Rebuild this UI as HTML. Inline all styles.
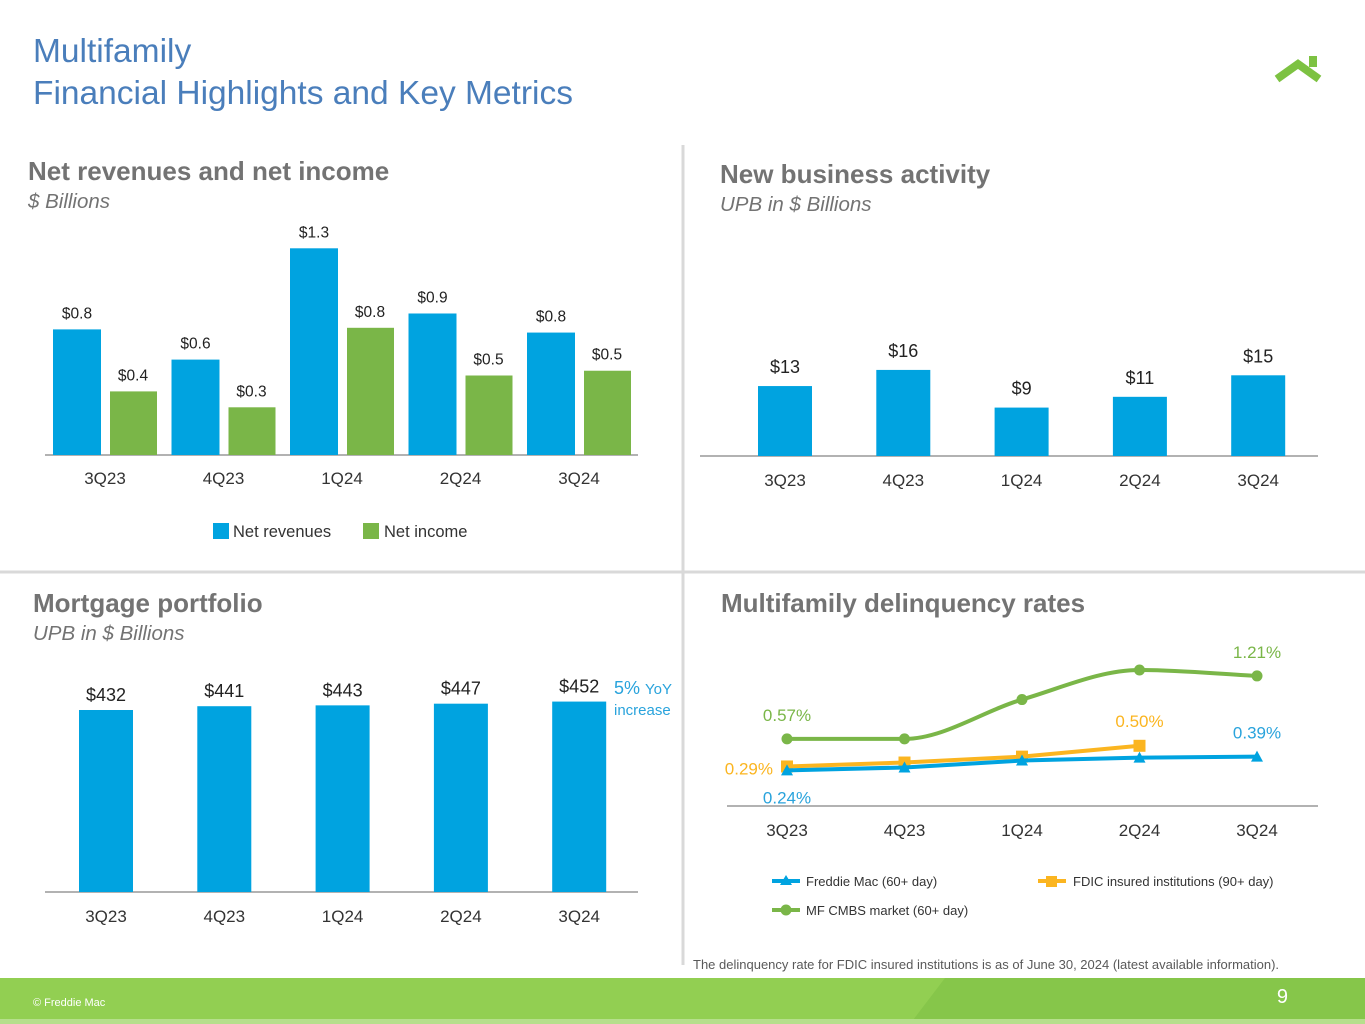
<!DOCTYPE html>
<html><head><meta charset="utf-8"><style>
body{margin:0;width:1365px;height:1024px;overflow:hidden;background:#fff;font-family:"Liberation Sans",Arial,sans-serif}
svg{position:absolute;left:0;top:0}
</style></head><body>
<svg id="s" width="1365" height="1024" font-family="Liberation Sans, Arial, sans-serif">
<text x="33" y="62" font-size="33.5" fill="#4a7ebb">Multifamily</text>
<text x="33" y="104" font-size="33.5" fill="#4a7ebb">Financial Highlights and Key Metrics</text>
<g><polyline points="1277,79 1298,64 1319,79" fill="none" stroke="#7dc242" stroke-width="8"/><rect x="1309" y="56" width="8" height="11" fill="#7dc242"/></g>
<line x1="683" y1="145" x2="683" y2="965" stroke="#d9d9d9" stroke-width="3"/>
<line x1="0" y1="572" x2="1365" y2="572" stroke="#d9d9d9" stroke-width="3"/>
<text x="28" y="180" font-size="26" font-weight="bold" fill="#737373">Net revenues and net income</text>
<text x="28" y="208" font-size="20.5" font-style="italic" fill="#737373">$ Billions</text>
<text x="720" y="183" font-size="26" font-weight="bold" fill="#737373">New business activity</text>
<text x="720" y="211" font-size="20.5" font-style="italic" fill="#737373">UPB in $ Billions</text>
<text x="33" y="612" font-size="26" font-weight="bold" fill="#737373">Mortgage portfolio</text>
<text x="33" y="640" font-size="20.5" font-style="italic" fill="#737373">UPB in $ Billions</text>
<text x="721" y="612" font-size="26" font-weight="bold" fill="#737373">Multifamily delinquency rates</text>
<text x="614" y="694" font-size="18" fill="#29a3dc">5% <tspan font-size="15">YoY</tspan></text>
<text x="614" y="715" font-size="15" fill="#29a3dc">increase</text>
<g>
<rect x="213" y="523" width="16" height="16" fill="#00a3e0"/><text x="233" y="537" font-size="16.5" fill="#333">Net revenues</text>
<rect x="363" y="523" width="16" height="16" fill="#7ab648"/><text x="384" y="537" font-size="16.5" fill="#333">Net income</text>
</g>
<g font-size="13" fill="#333">
<line x1="772" y1="881" x2="800" y2="881" stroke="#00a3e0" stroke-width="4"/><polygon points="786,875 792,885 780,885" fill="#00a3e0"/><text x="806" y="886">Freddie Mac (60+ day)</text>
<line x1="1038" y1="881" x2="1066" y2="881" stroke="#fbb520" stroke-width="4"/><rect x="1046" y="876" width="11" height="11" fill="#fbb520"/><text x="1073" y="886">FDIC insured institutions (90+ day)</text>
<line x1="772" y1="910" x2="800" y2="910" stroke="#7ab648" stroke-width="4"/><circle cx="786" cy="910" r="5.5" fill="#7ab648"/><text x="806" y="915">MF CMBS market (60+ day)</text>
</g>
<text x="693" y="969" font-size="13" fill="#595959">The delinquency rate for FDIC insured institutions is as of June 30, 2024 (latest available information).</text>
<rect x="0" y="978" width="1365" height="46" fill="#92cf52"/>
<polygon points="945,978 1365,978 1365,1024 910,1024" fill="#86c64a"/>
<rect x="0" y="1019" width="1365" height="5" fill="#b6df8c"/>
<text x="33" y="1006" font-size="11" fill="#fff">© Freddie Mac</text>
<text x="1288" y="1003" font-size="20" fill="#fff" text-anchor="end">9</text>
</svg>
<script>
const quarters=["3Q23","4Q23","1Q24","2Q24","3Q24"];
const netRevenues=[0.79,0.6,1.3,0.89,0.77];
const netRevenueLabels=["$0.8","$0.6","$1.3","$0.9","$0.8"];
const netIncome=[0.40,0.30,0.80,0.50,0.53];
const netIncomeLabels=["$0.4","$0.3","$0.8","$0.5","$0.5"];
const newBusiness=[13,16,9,11,15];
const newBusinessLabels=["$13","$16","$9","$11","$15"];
const portfolio=[432,441,443,447,452];
const portfolioLabels=["$432","$441","$443","$447","$452"];
const freddie=[0.25,0.28,0.35,0.38,0.39];
const fdic=[0.29,0.33,0.39,0.50];
const cmbs=[0.57,0.57,0.97,1.27,1.21];
const delinqLabels={freddieFirst:"0.24%",freddieLast:"0.39%",fdicFirst:"0.29%",fdicLast:"0.50%",cmbsFirst:"0.57%",cmbsLast:"1.21%"};

const S=document.getElementById('s');const NS="http://www.w3.org/2000/svg";
function mk(t,a,txt){const e=document.createElementNS(NS,t);for(const k in a)e.setAttribute(k,a[k]);if(txt!=null)e.textContent=txt;S.appendChild(e);return e;}
// chart1
const y1=v=>455-v*159, gx1=i=>105+i*118.5;
mk('line',{x1:45,y1:455,x2:638,y2:455,stroke:'#999','stroke-width':1.5});
quarters.forEach((q,i)=>{
 let r=mk('rect',{x:gx1(i)-52,y:y1(netRevenues[i]),width:48,height:455-y1(netRevenues[i]),fill:'#00a3e0'});
 
 let t=mk('text',{x:gx1(i)-28,y:y1(netRevenues[i])-11,'font-size':15.5,'text-anchor':'middle',fill:'#222'},netRevenueLabels[i]);
 
 let b=mk('rect',{x:gx1(i)+5,y:y1(netIncome[i]),width:47,height:455-y1(netIncome[i]),fill:'#7ab648'});
 
 let u=mk('text',{x:gx1(i)+28,y:y1(netIncome[i])-11,'font-size':15.5,'text-anchor':'middle',fill:'#222'},netIncomeLabels[i]);
 
 let l=mk('text',{x:gx1(i),y:484,'font-size':17,'text-anchor':'middle',fill:'#333'},q);
 
});
// chart2
const y2=v=>456-v*5.38, gx2=i=>785+i*118.3;
mk('line',{x1:700,y1:456,x2:1318,y2:456,stroke:'#999','stroke-width':1.5});
quarters.forEach((q,i)=>{
 let r=mk('rect',{x:gx2(i)-27,y:y2(newBusiness[i]),width:54,height:456-y2(newBusiness[i]),fill:'#00a3e0'});
 
 let t=mk('text',{x:gx2(i),y:y2(newBusiness[i])-13,'font-size':18,'text-anchor':'middle',fill:'#222'},newBusinessLabels[i]);
 
 let l=mk('text',{x:gx2(i),y:486,'font-size':17,'text-anchor':'middle',fill:'#333'},q);
 
});
// chart3
const y3=v=>892-v*0.4213, gx3=i=>106+i*118.3;
mk('line',{x1:45,y1:892,x2:638,y2:892,stroke:'#999','stroke-width':1.5});
quarters.forEach((q,i)=>{
 let r=mk('rect',{x:gx3(i)-27,y:y3(portfolio[i]),width:54,height:892-y3(portfolio[i]),fill:'#00a3e0'});
 
 let t=mk('text',{x:gx3(i),y:y3(portfolio[i])-9,'font-size':18,'text-anchor':'middle',fill:'#222'},portfolioLabels[i]);
 
 let l=mk('text',{x:gx3(i),y:922,'font-size':17,'text-anchor':'middle',fill:'#333'},q);
 
});
// chart4
const y4=v=>795-v*98.4, gx4=i=>787+i*117.5;
mk('line',{x1:727,y1:806,x2:1318,y2:806,stroke:'#999','stroke-width':1.5});
quarters.forEach((q,i)=>{let l=mk('text',{x:gx4(i),y:836,'font-size':17,'text-anchor':'middle',fill:'#333'},q);});
function smooth(pts){
 const n=pts.length,d=[],m=[];
 for(let i=0;i<n-1;i++)d.push((pts[i+1][1]-pts[i][1])/(pts[i+1][0]-pts[i][0]));
 for(let i=0;i<n;i++){if(i==0)m.push(d[0]);else if(i==n-1)m.push(d[n-2]);else m.push(d[i-1]*d[i]<=0?0:(d[i-1]+d[i])/2);}
 for(let i=0;i<n-1;i++){if(d[i]==0){m[i]=0;m[i+1]=0;}}
 let s='M'+pts[0][0]+','+pts[0][1];
 for(let i=0;i<n-1;i++){const h=(pts[i+1][0]-pts[i][0])/3;
  s+=' C'+(pts[i][0]+h)+','+(pts[i][1]+m[i]*h)+' '+(pts[i+1][0]-h)+','+(pts[i+1][1]-m[i+1]*h)+' '+pts[i+1][0]+','+pts[i+1][1];}
 return s;}
const cp=cmbs.map((v,i)=>[gx4(i),y4(v)]);
let g=mk('path',{d:smooth(cp),fill:'none',stroke:'#7ab648','stroke-width':4});
cp.forEach(p=>{let c=mk('circle',{cx:p[0],cy:p[1],r:5.5,fill:'#7ab648'});});
const fp=fdic.map((v,i)=>[gx4(i),y4(v)]);
let f=mk('polyline',{points:fp.join(' '),fill:'none',stroke:'#fbb520','stroke-width':4});
fp.forEach(p=>{let r=mk('rect',{x:p[0]-6,y:p[1]-6,width:12,height:12,fill:'#fbb520'});});
const bp=freddie.map((v,i)=>[gx4(i),y4(v)]);
let bl=mk('polyline',{points:bp.join(' '),fill:'none',stroke:'#00a3e0','stroke-width':4});
bp.forEach(p=>{let t=mk('polygon',{points:(p[0])+','+(p[1]-6)+' '+(p[0]+6)+','+(p[1]+5)+' '+(p[0]-6)+','+(p[1]+5),fill:'#00a3e0'});});
function lab(x,y,txt,col,a,n){let t=mk('text',{x:x,y:y,'font-size':17,'text-anchor':a,fill:col},txt);}
lab(gx4(0),y4(cmbs[0])-18,delinqLabels.cmbsFirst,'#7ab648','middle','label-cmbs-first');
lab(gx4(4),y4(cmbs[4])-18,delinqLabels.cmbsLast,'#7ab648','middle','label-cmbs-last');
lab(gx4(0)-14,y4(fdic[0])+8,delinqLabels.fdicFirst,'#fbb520','end','label-fdic-first');
lab(gx4(3),y4(fdic[3])-19,delinqLabels.fdicLast,'#fbb520','middle','label-fdic-last');
lab(gx4(0),y4(freddie[0])+33,delinqLabels.freddieFirst,'#29a3dc','middle','label-freddie-first');
lab(gx4(4),y4(freddie[4])-18,delinqLabels.freddieLast,'#29a3dc','middle','label-freddie-last');
</script>
</body></html>
